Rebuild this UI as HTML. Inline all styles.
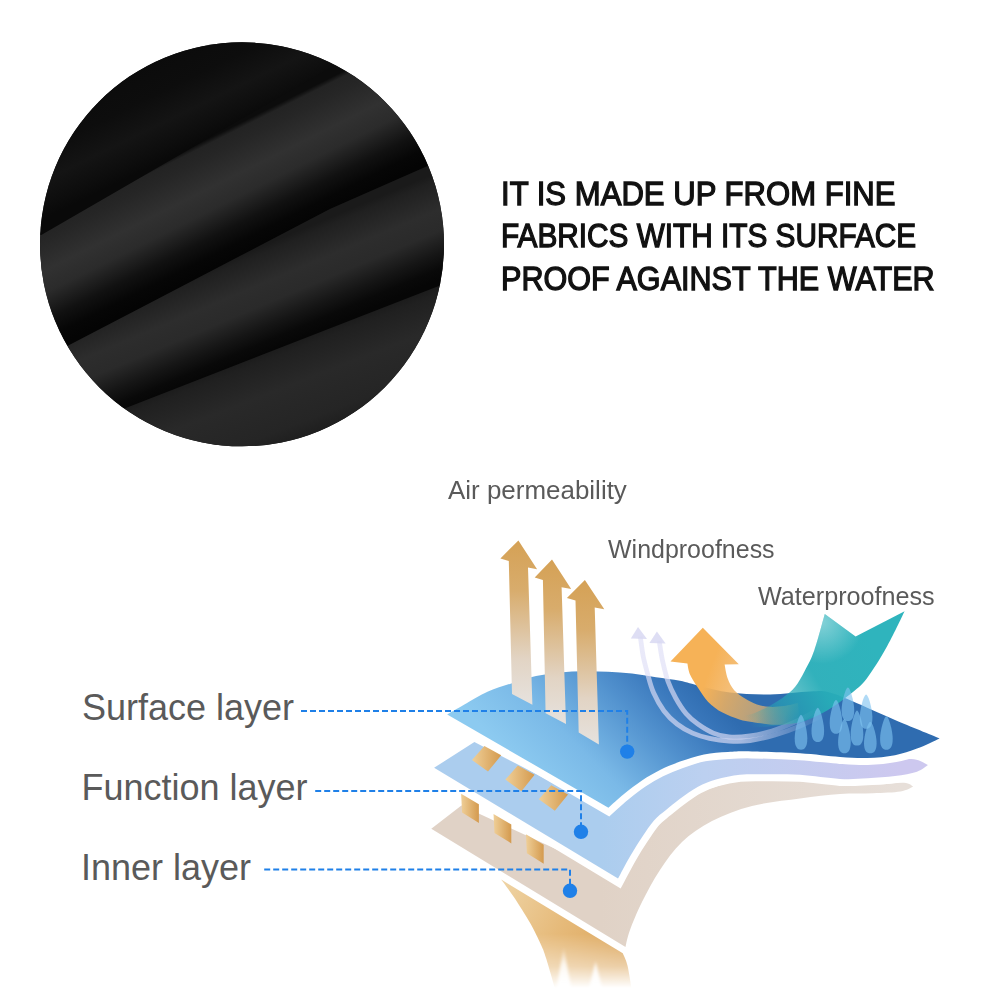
<!DOCTYPE html>
<html>
<head>
<meta charset="utf-8">
<style>
html,body{margin:0;padding:0;background:#fff;}
body{width:1000px;height:1000px;position:relative;overflow:hidden;}
svg{position:absolute;left:0;top:0;}
.h{position:absolute;left:501px;font-family:"Liberation Sans",sans-serif;font-weight:normal;-webkit-text-stroke:1.3px #111;font-size:33.2px;color:#111;white-space:nowrap;line-height:1;transform-origin:0 0;}
.l{position:absolute;font-family:"Liberation Sans",sans-serif;font-size:36px;color:#5a5a5a;white-space:nowrap;line-height:1;transform-origin:0 0;}
.s{position:absolute;font-family:"Liberation Sans",sans-serif;font-size:25.6px;color:#5a5a5a;white-space:nowrap;line-height:1;transform-origin:0 0;}
</style>
</head>
<body>
<svg width="1000" height="1000" viewBox="0 0 1000 1000">
  <defs>
    <clipPath id="cc"><circle cx="242" cy="244.3" r="202"/></clipPath>
    <linearGradient id="fb0" gradientUnits="userSpaceOnUse" x1="150" y1="40" x2="200" y2="143">
      <stop offset="0" stop-color="#0a0a0a"/>
      <stop offset="0.45" stop-color="#0d0d0d"/>
      <stop offset="0.7" stop-color="#141414"/>
      <stop offset="0.9" stop-color="#0d0d0d"/>
      <stop offset="1" stop-color="#090909"/>
    </linearGradient>
    <linearGradient id="fb1" gradientUnits="userSpaceOnUse" x1="200" y1="143" x2="252.7" y2="248.3">
      <stop offset="0" stop-color="#0c0c0c"/>
      <stop offset="0.04" stop-color="#232323"/>
      <stop offset="0.14" stop-color="#262626"/>
      <stop offset="0.38" stop-color="#313131"/>
      <stop offset="0.55" stop-color="#2b2b2b"/>
      <stop offset="0.76" stop-color="#111111"/>
      <stop offset="0.9" stop-color="#060606"/>
      <stop offset="1" stop-color="#040404"/>
    </linearGradient>
    <linearGradient id="fb2" gradientUnits="userSpaceOnUse" x1="200" y1="272" x2="238.6" y2="363.9">
      <stop offset="0" stop-color="#1a1a1a"/>
      <stop offset="0.07" stop-color="#202020"/>
      <stop offset="0.35" stop-color="#2d2d2d"/>
      <stop offset="0.55" stop-color="#2a2a2a"/>
      <stop offset="0.76" stop-color="#151515"/>
      <stop offset="0.9" stop-color="#090909"/>
      <stop offset="1" stop-color="#060606"/>
    </linearGradient>
    <linearGradient id="fb3" gradientUnits="userSpaceOnUse" x1="250" y1="359.5" x2="289.6" y2="462.1">
      <stop offset="0" stop-color="#1c1c1c"/>
      <stop offset="0.06" stop-color="#202020"/>
      <stop offset="0.35" stop-color="#292929"/>
      <stop offset="0.7" stop-color="#252525"/>
      <stop offset="1" stop-color="#171717"/>
    </linearGradient>
  </defs>
  <g clip-path="url(#cc)">
    <rect x="30" y="30" width="430" height="430" fill="#0a0a0a"/>
    <polygon points="0,0 480,0 480,-19 0,259" fill="url(#fb0)"/>
    <polygon points="0,259 480,-19 480,145 430,165 330,209 150,303 0,381" fill="url(#fb1)"/>
    <polygon points="0,381 150,303 330,209 430,165 480,145 480,270 0,457" fill="url(#fb2)"/>
    <polygon points="0,457 480,270 480,480 0,480" fill="url(#fb3)"/>
  </g>
</svg>

<svg width="1000" height="1000" viewBox="0 0 1000 1000">
<defs>
  <filter id="blur1" x="-50%" y="-50%" width="200%" height="200%"><feGaussianBlur stdDeviation="1.5"/></filter>
  <linearGradient id="gSurf" gradientUnits="userSpaceOnUse" x1="560" y1="805" x2="690" y2="675">
    <stop offset="0" stop-color="#8ccaf0"/>
    <stop offset="0.3" stop-color="#7ab9e7"/>
    <stop offset="0.62" stop-color="#5393cf"/>
    <stop offset="0.85" stop-color="#3a78bc"/>
    <stop offset="1" stop-color="#2f6cb0"/>
  </linearGradient>
  <linearGradient id="gFunc" gradientUnits="userSpaceOnUse" x1="600" y1="0" x2="900" y2="0">
    <stop offset="0" stop-color="#abcdee"/>
    <stop offset="0.35" stop-color="#bcd0f0"/>
    <stop offset="1" stop-color="#cdc8ef"/>
  </linearGradient>
  <linearGradient id="gInner" gradientUnits="userSpaceOnUse" x1="600" y1="0" x2="900" y2="0">
    <stop offset="0" stop-color="#e0d2c6"/>
    <stop offset="1" stop-color="#e7dfd9"/>
  </linearGradient>
  <linearGradient id="gTan" x1="0" y1="0" x2="1" y2="0">
    <stop offset="0" stop-color="#efcf98"/>
    <stop offset="1" stop-color="#d49a4e"/>
  </linearGradient>
  <linearGradient id="gStreak" gradientUnits="userSpaceOnUse" x1="505" y1="885" x2="625" y2="950">
    <stop offset="0" stop-color="#eed2a2"/>
    <stop offset="0.5" stop-color="#e6ba7a"/>
    <stop offset="1" stop-color="#dca65c"/>
  </linearGradient>
  <linearGradient id="gFade" gradientUnits="userSpaceOnUse" x1="0" y1="880" x2="0" y2="988">
    <stop offset="0" stop-color="#fff"/>
    <stop offset="0.5" stop-color="#fff"/>
    <stop offset="0.8" stop-color="#888"/>
    <stop offset="1" stop-color="#000"/>
  </linearGradient>
  <mask id="mStreak" maskUnits="userSpaceOnUse" x="400" y="860" width="300" height="140"><rect x="400" y="860" width="300" height="140" fill="url(#gFade)"/></mask>
  <linearGradient id="gSpike" gradientUnits="userSpaceOnUse" x1="0" y1="945" x2="0" y2="985">
    <stop offset="0" stop-color="#fff" stop-opacity="0"/>
    <stop offset="0.5" stop-color="#fff" stop-opacity="0.8"/>
    <stop offset="1" stop-color="#fff" stop-opacity="1"/>
  </linearGradient>
  <linearGradient id="gAir" x1="0" y1="0" x2="0" y2="1">
    <stop offset="0" stop-color="#d5a155"/>
    <stop offset="0.3" stop-color="#d8ac6c"/>
    <stop offset="0.72" stop-color="#e2d4c4"/>
    <stop offset="1" stop-color="#e6e2de"/>
  </linearGradient>
  <linearGradient id="gOrange" gradientUnits="userSpaceOnUse" x1="705" y1="682" x2="800" y2="718">
    <stop offset="0" stop-color="#f6b257"/>
    <stop offset="0.25" stop-color="#f2b25e" stop-opacity="0.85"/>
    <stop offset="0.6" stop-color="#e6b46e" stop-opacity="0.72"/>
    <stop offset="0.85" stop-color="#dcb478" stop-opacity="0.4"/>
    <stop offset="1" stop-color="#dcb478" stop-opacity="0"/>
  </linearGradient>
  <radialGradient id="gTealHi" gradientUnits="userSpaceOnUse" cx="822" cy="622" r="42">
    <stop offset="0" stop-color="#ffffff" stop-opacity="0.4"/>
    <stop offset="1" stop-color="#ffffff" stop-opacity="0"/>
  </radialGradient>
  <linearGradient id="gWind" gradientUnits="userSpaceOnUse" x1="740" y1="0" x2="825" y2="0">
    <stop offset="0" stop-color="#dedef6" stop-opacity="0.66"/>
    <stop offset="1" stop-color="#dedef6" stop-opacity="0"/>
  </linearGradient>
  <linearGradient id="gTeal" gradientUnits="userSpaceOnUse" x1="870" y1="640" x2="744" y2="715">
    <stop offset="0" stop-color="#2fb4bd"/>
    <stop offset="0.45" stop-color="#27adb8" stop-opacity="0.95"/>
    <stop offset="0.75" stop-color="#25a9b5" stop-opacity="0.6"/>
    <stop offset="1" stop-color="#25a9b5" stop-opacity="0"/>
  </linearGradient>
</defs>
<path d="M501.2,879.6 L622.8,953.2 C623.6,955.3 626.1,959.5 627.6,966.0 C629.1,972.5 631.3,987.7 632.0,992.0 L556.0,992.0 C554.3,986.3 548.5,965.8 546.0,958.0 C543.5,950.2 543.9,951.1 541.2,945.2 C538.5,939.3 534.5,930.8 530.0,922.8 C525.5,914.8 518.8,904.4 514.0,897.2 C509.2,890.0 503.3,882.5 501.2,879.6 Z" fill="url(#gStreak)" mask="url(#mStreak)"/>
<g filter="url(#blur1)"><path d="M563.6,946.8 L556.0,992.0 L572.0,992.0 Z" fill="url(#gSpike)"/><path d="M595.6,961.2 L588.0,992.0 L603.0,992.0 Z" fill="url(#gSpike)"/></g>
<path d="M431.3,828.7 L461.4,805.6 L610.0,874.0 C615.0,866.7 625.0,843.7 640.0,830.0 C655.0,816.3 676.7,801.3 700.0,792.0 C723.3,782.7 756.7,776.0 780.0,774.0 C803.3,772.0 824.5,778.3 840.0,780.0 C855.5,781.7 862.4,783.9 873.0,784.4 C883.6,784.9 897.1,782.4 903.8,782.7 C910.5,783.1 911.6,785.9 913.2,786.5 C911.1,787.3 907.2,790.4 900.5,791.5 C893.8,792.6 883.1,792.8 873.0,793.2 C862.9,793.6 852.2,793.1 840.0,794.0 C827.8,794.9 814.7,796.5 800.0,798.5 C785.3,800.5 766.7,802.2 752.0,806.0 C737.3,809.8 723.7,815.0 712.0,821.0 C700.3,827.0 690.7,833.8 682.0,842.0 C673.3,850.2 666.7,860.0 660.0,870.0 C653.3,880.0 647.0,892.0 642.0,902.0 C637.0,912.0 632.8,922.5 630.0,930.0 C627.2,937.5 626.2,944.2 625.5,947.0 L431.3,828.7 Z" fill="url(#gInner)"/>
<path d="M461.1,793.7 L478.9,804.2 L478.9,823.1 L462.1,812.6 Z" fill="url(#gTan)"/><path d="M493.5,814.0 L511.3,824.5 L511.3,843.4 L494.5,832.9 Z" fill="url(#gTan)"/><path d="M525.9,834.3 L543.7,844.8 L543.7,863.7 L526.9,853.2 Z" fill="url(#gTan)"/>
<path d="M434.1,767.8 L474.4,742.0 L600.0,807.0 C606.7,801.2 623.3,781.2 640.0,772.0 C656.7,762.8 676.7,755.7 700.0,752.0 C723.3,748.3 756.7,748.7 780.0,750.0 C803.3,751.3 824.5,757.9 840.0,760.0 C855.5,762.1 861.1,762.6 873.0,762.4 C884.9,762.2 902.3,758.5 911.5,759.0 C920.7,759.5 925.2,764.1 928.0,765.1 C926.2,766.2 922.5,769.9 917.0,771.7 C911.5,773.5 903.2,775.0 895.0,776.1 C886.8,777.2 876.7,777.8 867.5,778.3 C858.3,778.8 851.2,779.5 840.0,778.9 C828.8,778.3 812.7,775.6 800.0,774.8 C787.3,774.0 774.0,774.2 764.0,774.2 C754.0,774.2 748.0,773.9 740.0,774.8 C732.0,775.7 723.0,777.6 716.0,779.6 C709.0,781.6 704.0,783.6 698.0,786.8 C692.0,790.0 685.3,794.9 680.0,798.8 C674.7,802.7 670.3,806.4 666.0,810.0 C661.7,813.6 658.0,815.9 654.0,820.4 C650.0,824.9 646.0,831.2 642.0,837.2 C638.0,843.2 634.0,849.5 630.0,856.4 C626.0,863.3 620.0,874.9 618.0,878.6 L434.1,767.8 Z" fill="url(#gFunc)" stroke="#fff" stroke-width="14" stroke-linejoin="miter" paint-order="stroke fill"/>
<path d="M472.0,760.0 L484.4,746.0 L501.2,755.2 L488.0,771.6 Z" fill="url(#gTan)"/><path d="M505.4,779.6 L517.8,765.6 L534.6,774.8 L521.4,791.2 Z" fill="url(#gTan)"/><path d="M538.8,799.2 L551.2,785.2 L568.0,794.4 L554.8,810.8 Z" fill="url(#gTan)"/>
<path d="M447.2,714.4 C450.0,712.8 457.2,708.6 464.0,704.8 C470.8,701.0 480.0,695.2 488.0,691.6 C496.0,688.0 504.0,685.8 512.0,683.2 C520.0,680.6 528.0,677.8 536.0,676.0 C544.0,674.2 552.0,673.2 560.0,672.4 C568.0,671.6 576.0,671.3 584.0,671.2 C592.0,671.1 600.0,671.3 608.0,671.7 C616.0,672.1 624.0,672.7 632.0,673.6 C640.0,674.5 648.0,676.0 656.0,677.2 C664.0,678.4 672.7,679.3 680.0,680.8 C687.3,682.3 691.7,684.0 700.0,686.0 C708.3,688.0 718.3,691.1 730.0,692.5 C741.7,693.9 756.7,694.7 770.0,694.5 C783.3,694.3 800.3,691.9 810.0,691.5 C819.7,691.1 821.0,690.4 828.0,692.0 C835.0,693.6 840.8,696.3 852.0,701.0 C863.2,705.7 880.4,713.8 895.0,720.0 C909.6,726.2 932.2,735.3 939.6,738.4 C935.8,740.1 924.4,745.8 917.0,748.6 C909.6,751.4 903.2,753.6 895.0,755.2 C886.8,756.8 876.7,757.7 867.5,758.0 C858.3,758.3 851.2,757.7 840.0,756.9 C828.8,756.1 814.7,754.1 800.0,753.2 C785.3,752.3 764.0,751.6 752.0,751.4 C740.0,751.2 736.0,751.5 728.0,752.0 C720.0,752.5 712.0,752.8 704.0,754.4 C696.0,756.0 687.3,759.0 680.0,761.6 C672.7,764.2 666.3,766.9 660.0,770.0 C653.7,773.1 648.0,776.5 642.0,780.5 C636.0,784.5 629.6,789.5 624.0,794.0 C618.4,798.5 611.0,805.5 608.4,807.8 L447.2,714.4 Z" fill="url(#gSurf)" stroke="#fff" stroke-width="14" stroke-linejoin="miter" paint-order="stroke fill"/>
<g fill="none" stroke="url(#gWind)" stroke-width="4.8">
  <path d="M640.3,636.5 C640.8,639.8 642.0,650.0 643.2,656.4 C644.5,662.8 646.1,668.5 647.8,674.6 C649.5,680.7 650.9,686.7 653.6,692.8 C656.3,698.9 660.1,705.8 664.0,711.0 C667.9,716.2 672.2,720.3 677.0,724.0 C681.8,727.7 687.2,730.7 692.6,733.1 C698.0,735.5 703.4,737.0 709.5,738.3 C715.6,739.6 722.2,740.6 729.0,741.0 C735.8,741.4 742.3,741.5 750.0,740.5 C757.7,739.5 766.7,737.4 775.0,735.0 C783.3,732.6 791.7,729.5 800.0,726.0 C808.3,722.5 820.8,716.0 825.0,714.0 "/><path d="M659.2,641.0 C659.8,644.4 661.2,654.9 662.7,661.6 C664.2,668.3 665.7,675.0 667.9,681.1 C670.1,687.2 672.7,692.6 675.7,698.0 C678.7,703.4 682.4,709.3 686.1,713.6 C689.8,717.9 693.2,720.8 697.8,724.0 C702.3,727.2 708.2,730.9 713.4,733.1 C718.6,735.3 722.9,736.5 729.0,737.0 C735.1,737.5 742.8,737.0 750.0,736.0 C757.2,735.0 764.5,733.3 772.0,731.0 C779.5,728.7 787.3,725.5 795.0,722.0 C802.7,718.5 814.2,712.0 818.0,710.0 "/>
</g>
<g fill="#d8d8f2" fill-opacity="0.85">
  <path d="M638.0,627.0 L647.0,639.0 L630.8,638.5 Z"/><path d="M656.9,631.6 L665.6,643.5 L649.4,643.0 Z"/>
</g>
<path d="M702.8,627.8 L738.8,664.2 L724.6,664.6 C725.1,666.9 726.1,674.2 727.7,678.5 C729.3,682.8 731.3,686.9 734.2,690.2 C737.1,693.5 741.2,696.1 745.0,698.5 C748.8,700.9 752.9,703.0 757.0,704.4 C761.1,705.8 765.1,706.5 769.6,706.8 C774.1,707.1 779.3,706.6 784.0,706.0 C788.7,705.4 795.7,703.5 798.0,703.0 L800.0,723.0 C797.3,723.2 789.1,724.2 784.0,724.4 C778.9,724.6 774.9,724.8 769.6,724.4 C764.3,724.0 757.0,722.8 752.0,722.0 C747.0,721.2 744.3,721.1 739.4,719.5 C734.5,717.9 727.7,715.5 722.5,712.6 C717.3,709.7 712.3,706.1 708.2,701.9 C704.1,697.7 700.8,692.1 697.8,687.6 C694.8,683.1 691.7,678.6 690.0,674.6 C688.3,670.6 687.8,665.4 687.4,663.6 L670.5,661.6 L702.8,627.8 Z" fill="url(#gOrange)"/>
<path d="M824.8,614.0 L855.6,636.4 L904.6,611.2 C901.6,617.3 892.7,636.4 886.4,647.6 C880.1,658.8 872.8,670.7 866.8,678.4 C860.8,686.1 856.9,688.7 850.4,694.0 C843.9,699.3 835.7,705.5 828.0,710.0 C820.3,714.5 812.0,718.7 804.0,721.2 C796.0,723.7 787.2,724.2 780.0,725.2 C772.8,726.2 767.5,726.5 760.8,727.0 C754.1,727.5 743.5,727.8 740.0,728.0 L742.0,716.0 C743.7,715.7 747.9,715.4 752.0,714.0 C756.1,712.6 761.3,710.3 766.4,707.6 C771.5,704.9 777.6,701.5 782.4,698.0 C787.2,694.5 791.5,691.3 795.2,686.8 C798.9,682.3 801.6,676.9 804.8,670.8 C808.0,664.7 811.1,659.5 814.4,650.0 C817.7,640.5 823.1,620.0 824.8,614.0 Z" fill="url(#gTeal)"/>
<path d="M824.8,614.0 L855.6,636.4 L904.6,611.2 C901.6,617.3 892.7,636.4 886.4,647.6 C880.1,658.8 872.8,670.7 866.8,678.4 C860.8,686.1 856.9,688.7 850.4,694.0 C843.9,699.3 835.7,705.5 828.0,710.0 C820.3,714.5 812.0,718.7 804.0,721.2 C796.0,723.7 787.2,724.2 780.0,725.2 C772.8,726.2 767.5,726.5 760.8,727.0 C754.1,727.5 743.5,727.8 740.0,728.0 L742.0,716.0 C743.7,715.7 747.9,715.4 752.0,714.0 C756.1,712.6 761.3,710.3 766.4,707.6 C771.5,704.9 777.6,701.5 782.4,698.0 C787.2,694.5 791.5,691.3 795.2,686.8 C798.9,682.3 801.6,676.9 804.8,670.8 C808.0,664.7 811.1,659.5 814.4,650.0 C817.7,640.5 823.1,620.0 824.8,614.0 Z" fill="url(#gTealHi)"/>
<g fill="#80c4f0" fill-opacity="0.62">
<path d="M801.0,714.8 C803.2,714.8 807.3,729.5 807.3,738.6 C807.3,747.3 804.5,749.8 801.0,749.8 C797.5,749.8 794.7,747.3 794.7,738.6 C794.7,729.5 798.8,714.8 801.0,714.8 Z"/><path d="M817.8,707.8 C820.0,707.8 824.1,722.2 824.1,731.1 C824.1,739.6 821.3,742.1 817.8,742.1 C814.3,742.1 811.5,739.6 811.5,731.1 C811.5,722.2 815.6,707.8 817.8,707.8 Z"/><path d="M836.0,700.1 C838.2,700.1 842.3,714.2 842.3,722.9 C842.3,731.2 839.5,733.7 836.0,733.7 C832.5,733.7 829.7,731.2 829.7,722.9 C829.7,714.2 833.8,700.1 836.0,700.1 Z"/><path d="M847.9,687.5 C850.1,687.5 854.2,701.6 854.2,710.3 C854.2,718.6 851.4,721.1 847.9,721.1 C844.4,721.1 841.6,718.6 841.6,710.3 C841.6,701.6 845.7,687.5 847.9,687.5 Z"/><path d="M844.4,719.0 C846.6,719.0 850.7,733.4 850.7,742.3 C850.7,750.8 847.9,753.3 844.4,753.3 C840.9,753.3 838.1,750.8 838.1,742.3 C838.1,733.4 842.2,719.0 844.4,719.0 Z"/><path d="M857.0,710.6 C859.2,710.6 863.3,725.3 863.3,734.4 C863.3,743.1 860.5,745.6 857.0,745.6 C853.5,745.6 850.7,743.1 850.7,734.4 C850.7,725.3 854.8,710.6 857.0,710.6 Z"/><path d="M866.1,694.5 C868.3,694.5 872.4,708.9 872.4,717.8 C872.4,726.3 869.6,728.8 866.1,728.8 C862.6,728.8 859.8,726.3 859.8,717.8 C859.8,708.9 863.9,694.5 866.1,694.5 Z"/><path d="M870.3,721.8 C872.5,721.8 876.6,735.0 876.6,743.2 C876.6,750.8 873.8,753.3 870.3,753.3 C866.8,753.3 864.0,750.8 864.0,743.2 C864.0,735.0 868.1,721.8 870.3,721.8 Z"/><path d="M886.4,716.2 C888.6,716.2 892.7,730.3 892.7,739.0 C892.7,747.3 889.9,749.8 886.4,749.8 C882.9,749.8 880.1,747.3 880.1,739.0 C880.1,730.3 884.2,716.2 886.4,716.2 Z"/>
</g>
<path d="M518.4,540.4 L537.1,569.2 L528.0,567.5 L532.4,704.8 L512.0,694.0 L508.8,561.0 L500.4,558.4 Z" fill="url(#gAir)"/><path d="M552.0,559.6 L571.2,589.1 L561.6,587.2 L566.0,724.0 L545.6,713.2 L542.9,580.0 L534.7,577.6 Z" fill="url(#gAir)"/><path d="M584.9,580.0 L604.3,609.3 L594.7,607.6 L598.9,744.4 L578.7,732.4 L575.5,600.4 L566.9,598.0 Z" fill="url(#gAir)"/>
<g fill="none" stroke="#1f80e8" stroke-width="2" stroke-dasharray="6 3">
  <path d="M301,711 H627.2 V751"/>
  <path d="M315.2,791 H581 V831"/>
  <path d="M264.2,869.6 H570 V890"/>
</g>
<g fill="#1f80e8">
  <circle cx="627.2" cy="751.6" r="7.2"/>
  <circle cx="581" cy="831.8" r="7.2"/>
  <circle cx="570" cy="890.8" r="7.2"/>
</g>
</svg>

<div class="h" id="h1" style="top:176.8px;transform:scaleX(0.937)">IT IS MADE UP FROM FINE</div>
<div class="h" id="h2" style="top:219px;transform:scaleX(0.897)">FABRICS WITH ITS SURFACE</div>
<div class="h" id="h3" style="top:262px;transform:scaleX(0.921)">PROOF AGAINST THE WATER</div>

<div class="s" id="t1" style="left:448px;top:478px;transform:scaleX(1.014)">Air permeability</div>
<div class="s" id="t2" style="left:608px;top:537px;transform:scaleX(0.976)">Windproofness</div>
<div class="s" id="t3" style="left:758px;top:584px;transform:scaleX(0.983)">Waterproofness</div>

<div class="l" id="l1" style="left:82px;top:689.5px">Surface layer</div>
<div class="l" id="l2" style="left:81.5px;top:770px">Function layer</div>
<div class="l" id="l3" style="left:81px;top:850px">Inner layer</div>
</body>
</html>
